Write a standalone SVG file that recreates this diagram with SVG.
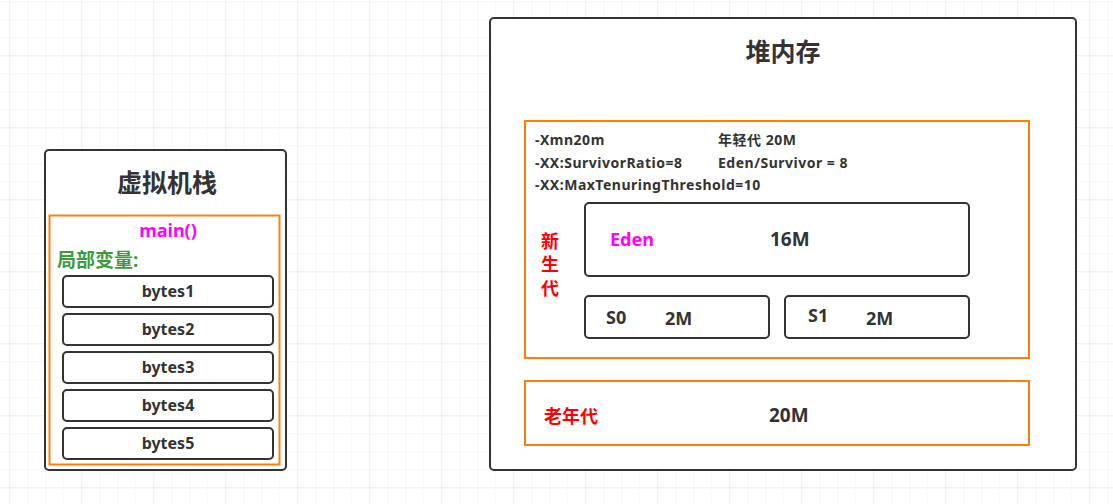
<svg xmlns="http://www.w3.org/2000/svg" width="1113" height="504" viewBox="0 0 1113 504">
<defs>
<pattern id="minor" x="9.3" y="1.3" width="18" height="18" patternUnits="userSpaceOnUse">
<path d="M0 0H18M0 0V18" fill="none" stroke="#efefef" stroke-width="1"/>
</pattern>
<pattern id="major" x="9.3" y="55.3" width="72" height="72" patternUnits="userSpaceOnUse">
<path d="M0 0H72M0 0V72" fill="none" stroke="#e2e2e2" stroke-width="1"/>
</pattern>
</defs>
<style>
text{font-family:"Noto Sans","Noto Sans CJK SC",sans-serif;font-weight:bold;fill:#333}
.box{fill:#fff;stroke:#333;stroke-width:2}
.org{fill:none;stroke:#ff7f0e;stroke-width:2}
.t25{font-size:25px}
.t18{font-size:18px}
.t16{font-size:16px}
.t14{font-size:14px;letter-spacing:0.5px}
.t19{font-size:19px}
.mag{fill:#ff00ff}
.red{fill:#ff0000}
.grn{fill:#3d9b3d}
.mid{text-anchor:middle}
</style>
<rect width="1113" height="504" fill="#fff"/>
<rect width="1113" height="504" fill="url(#minor)"/>
<rect width="1113" height="504" fill="url(#major)"/>

<g id="stack">
<rect class="box" x="45" y="150" width="241" height="320" rx="4"/>
<text class="t25 mid" x="167" y="192">虚拟机栈</text>
<rect class="org" x="49.5" y="215.5" width="230" height="249"/>
<text class="t18 mid mag" x="168" y="237">main()</text>
<text class="t19 grn" x="57" y="267">局部变量:</text>
</g>
<g id="bytes1"><rect class="box" x="63" y="276" width="210" height="31" rx="4"/><text class="t16 mid" x="168" y="297">bytes1</text></g>
<g id="bytes2"><rect class="box" x="63" y="314" width="210" height="31" rx="4"/><text class="t16 mid" x="168" y="335">bytes2</text></g>
<g id="bytes3"><rect class="box" x="63" y="352" width="210" height="31" rx="4"/><text class="t16 mid" x="168" y="373">bytes3</text></g>
<g id="bytes4"><rect class="box" x="63" y="390" width="210" height="31" rx="4"/><text class="t16 mid" x="168" y="411">bytes4</text></g>
<g id="bytes5"><rect class="box" x="63" y="428" width="210" height="31" rx="4"/><text class="t16 mid" x="168" y="449">bytes5</text></g>

<g id="heap">
<rect class="box" x="490" y="18" width="586" height="452" rx="4"/>
<text class="t25 mid" x="783" y="61">堆内存</text>
</g>
<g id="young">
<rect class="org" x="525" y="121" width="504" height="237"/>
<text class="t14" x="535" y="145">-Xmn20m</text>
<text class="t14" x="535" y="168">-XX:SurvivorRatio=8</text>
<text class="t14" x="535" y="190">-XX:MaxTenuringThreshold=10</text>
<text class="t14" x="718" y="145">年轻代 20M</text>
<text class="t14" x="718" y="168">Eden/Survivor = 8</text>
<text class="t18 red mid" x="550" y="248">新</text>
<text class="t18 red mid" x="550" y="271">生</text>
<text class="t18 red mid" x="550" y="295">代</text>
</g>
<g id="eden">
<rect class="box" x="585" y="203" width="384" height="73" rx="4"/>
<text class="t18 mag" x="610" y="246">Eden</text>
<text class="t19" x="770" y="246">16M</text>
</g>
<g id="s0">
<rect class="box" x="585" y="296" width="184" height="42" rx="4"/>
<text class="t18" x="606" y="324">S0</text>
<text class="t18" x="665" y="325">2M</text>
</g>
<g id="s1">
<rect class="box" x="785" y="296" width="184" height="42" rx="4"/>
<text class="t18" x="808" y="322">S1</text>
<text class="t18" x="866" y="325">2M</text>
</g>
<g id="old">
<rect class="org" x="525" y="381" width="504" height="64"/>
<text class="t18 red" x="544" y="423">老年代</text>
<text class="t19" x="769" y="422">20M</text>
</g>
<g id="connectors"/>
</svg>
